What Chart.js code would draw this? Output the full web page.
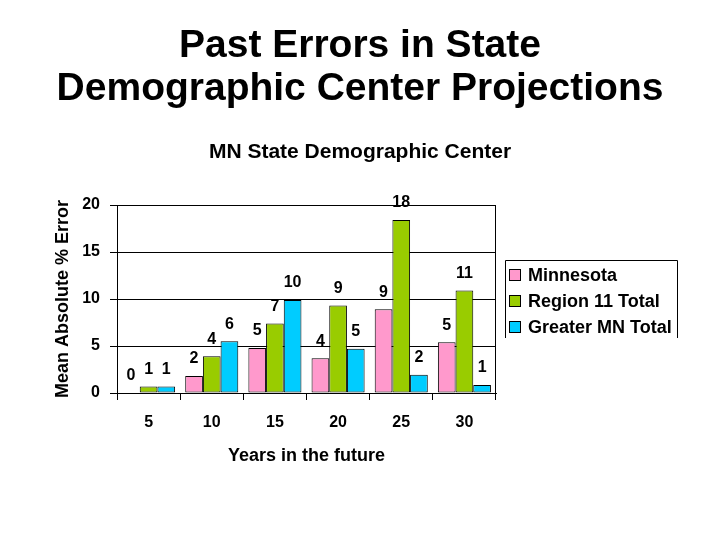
<!DOCTYPE html>
<html>
<head>
<meta charset="utf-8">
<script src="https://cdn.jsdelivr.net/npm/chart.js@4"></script>
<style>
  html, body { margin: 0; padding: 0; background: #fff; }
  #wrap { width: 720px; height: 540px; position: relative; }
</style>
</head>
<body>
<div id="wrap"><canvas id="c"></canvas></div>
<script>
const categories = ['5', '10', '15', '20', '25', '30'];
const minnesota = [0, 1.8, 4.8, 3.7, 8.9, 5.4];
const region11 = [0.7, 3.9, 7.4, 9.3, 18.4, 10.9];
const greaterMN = [0.7, 5.5, 9.9, 4.7, 1.95, 0.85];
const seriesNames = ['Minnesota', 'Region 11 Total', 'Greater MN Total'];
const seriesColors = ['#FF99CC', '#99CC00', '#00CCFF'];
const yTicks = [0, 5, 10, 15, 20];

const FONT = "'Liberation Sans', Arial, sans-serif";

const valueLabels = {
  id: 'valueLabels',
  afterDatasetsDraw(chart) {
    const ctx = chart.ctx;
    ctx.save();
    ctx.font = 'bold 16px ' + FONT;
    ctx.fillStyle = '#000';
    ctx.textAlign = 'center';
    ctx.textBaseline = 'middle';
    chart.data.datasets.forEach((ds, di) => {
      const meta = chart.getDatasetMeta(di);
      meta.data.forEach((el, i) => {
        ctx.fillText(String(Math.round(ds.data[i])), el.x, el.y - 17);
      });
    });
    ctx.restore();
  }
};

const boxLegend = {
  id: 'boxLegend',
  afterDraw(chart) {
    const ctx = chart.ctx;
    const area = chart.chartArea;
    const left = area.right + 9, top = 260, right = left + 172, bottom = 338;
    ctx.save();
    ctx.strokeStyle = '#000';
    ctx.lineWidth = 1;
    ctx.beginPath();
    ctx.moveTo(left + 0.5, bottom);
    ctx.lineTo(left + 0.5, top + 0.5);
    ctx.lineTo(right + 0.5, top + 0.5);
    ctx.lineTo(right + 0.5, bottom);
    ctx.stroke();
    ctx.font = 'bold 18px ' + FONT;
    ctx.textBaseline = 'middle';
    ctx.textAlign = 'left';
    chart.data.datasets.forEach((ds, i) => {
      const cy = 275 + i * 26;
      ctx.fillStyle = ds.backgroundColor;
      ctx.fillRect(left + 4, cy - 6, 12, 12);
      ctx.strokeRect(left + 4.5, cy - 5.5, 11, 11);
      ctx.fillStyle = '#000';
      ctx.fillText(ds.label, left + 23, cy + 1);
    });
    ctx.restore();
  }
};

new Chart(document.getElementById('c'), {
  type: 'bar',
  data: {
    labels: categories,
    datasets: [minnesota, region11, greaterMN].map((d, i) => ({
      label: seriesNames[i],
      data: d,
      backgroundColor: seriesColors[i],
      borderColor: '#000',
      borderWidth: 1,
      borderSkipped: false,
      categoryPercentage: 0.84,
      barPercentage: 1.0,
      yAxisID: 'y'
    }))
  },
  options: {
    responsive: true,
    maintainAspectRatio: false,
    animation: false,
    devicePixelRatio: 1,
    layout: { padding: { left: 0, right: 0, top: 0, bottom: 0 } },
    plugins: {
      legend: { display: false },
      tooltip: { enabled: false },
      title: {
        display: true,
        text: ['Past Errors in State', 'Demographic Center Projections'],
        color: '#000',
        font: { family: FONT, size: 39, weight: 'bold', lineHeight: 1.1026 },
        padding: { top: 24.5, bottom: 18 }
      },
      subtitle: {
        display: true,
        text: 'MN State Demographic Center',
        color: '#000',
        font: { family: FONT, size: 21, weight: 'bold', lineHeight: 1.2 },
        padding: { top: 11, bottom: 40.3 }
      }
    },
    scales: {
      x: {
        grid: {
          offset: true,
          drawOnChartArea: true,
          color: (c) => (c.type === 'scale' ? '#000' : 'rgba(0,0,0,0)'),
          tickColor: '#000',
          tickLength: 7,
          lineWidth: 1
        },
        border: { display: true, color: '#000', width: 1 },
        ticks: {
          color: '#000',
          padding: 13,
          font: { family: FONT, size: 16, weight: 'bold' }
        },
        title: {
          display: true,
          text: 'Years in the future',
          color: '#000',
          font: { family: FONT, size: 18, weight: 'bold', lineHeight: 1.2 },
          padding: { top: 0, bottom: 73 }
        },
        afterFit: (s) => { s.height = 147; }
      },
      y: {
        min: 0,
        max: 20,
        afterBuildTicks: (s) => { s.ticks = yTicks.map(v => ({ value: v })); },
        grid: { color: '#000', tickColor: '#000', tickLength: 7, lineWidth: 1 },
        border: { display: true, color: '#000', width: 1 },
        ticks: {
          color: '#000',
          padding: 10,
          font: { family: FONT, size: 16, weight: 'bold' }
        },
        title: {
          display: true,
          text: 'Mean Absolute % Error',
          color: '#000',
          font: { family: FONT, size: 18, weight: 'bold', lineHeight: 1.2 },
          padding: { top: 52, bottom: 0 }
        },
        afterFit: (s) => { s.width = 117; }
      },
      legendSpace: {
        type: 'linear',
        position: 'right',
        display: true,
        grid: { display: false, drawTicks: false },
        border: { display: false },
        ticks: { display: false },
        afterFit: (s) => { s.width = 224; }
      }
    }
  },
  plugins: [valueLabels, boxLegend]
});
</script>
</body>
</html>
